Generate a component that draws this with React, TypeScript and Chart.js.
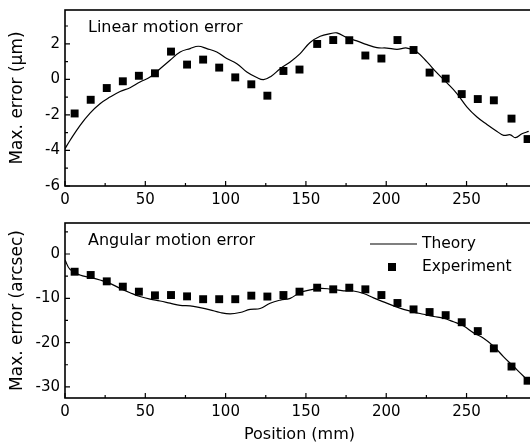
import React, { useEffect, useRef } from 'react';
import { Chart, registerables } from 'chart.js';

Chart.register(...registerables);

// Measurement positions (mm)
const positions = [6, 16, 26, 36, 46, 56, 66, 76, 86, 96, 106, 116, 126, 136, 146, 157, 167, 177, 187, 197, 207, 217, 227, 237, 247, 257, 267, 278, 288];

// Linear motion error (µm)
const linearExperiment = [-1.92, -1.15, -0.49, -0.11, 0.2, 0.34, 1.56, 0.83, 1.11, 0.66, 0.11, -0.28, -0.92, 0.47, 0.55, 1.99, 2.21, 2.2, 1.34, 1.17, 2.21, 1.65, 0.38, 0.04, -0.83, -1.11, -1.18, -2.21, -3.36];
const linearTheoryX = [0, 3.1, 9.3, 15.6, 21.8, 28, 34.3, 40.5, 46.7, 53, 59.2, 65.4, 71.7, 77.9, 83, 88.3, 94.5, 100.7, 107, 113.2, 119.4, 123.6, 128, 134, 140.2, 146.4, 152.6, 158.9, 165.1, 169.3, 175.5, 181.7, 188, 194.2, 200.4, 206.7, 212.9, 219.1, 225.4, 231.6, 237.8, 244, 250.3, 256.5, 262.7, 269, 273.1, 277.3, 280.4, 284.5, 288.7];
const linearTheoryY = [-3.9, -3.44, -2.6, -1.9, -1.37, -1.0, -0.68, -0.47, -0.15, 0.13, 0.6, 1.07, 1.54, 1.73, 1.86, 1.73, 1.54, 1.17, 0.88, 0.41, 0.1, -0.02, 0.15, 0.6, 0.98, 1.45, 2.07, 2.42, 2.57, 2.61, 2.35, 2.16, 1.95, 1.78, 1.76, 1.69, 1.76, 1.54, 0.98, 0.36, -0.2, -0.8, -1.56, -2.12, -2.54, -2.93, -3.15, -3.12, -3.28, -3.06, -2.93];

// Angular motion error (arcsec)
const angularExperiment = [-4.0, -4.74, -6.17, -7.37, -8.5, -9.33, -9.26, -9.56, -10.2, -10.2, -10.2, -9.4, -9.6, -9.26, -8.5, -7.6, -7.97, -7.6, -7.97, -9.26, -11.06, -12.5, -13.1, -13.8, -15.4, -17.4, -21.3, -25.4, -28.6];
const angularTheoryX = [0, 3.1, 9.3, 15.6, 21.8, 28, 34.3, 40.5, 46.7, 53, 59.2, 65.4, 71.7, 77.9, 84.1, 90.3, 96.6, 102.8, 109, 115.3, 121.5, 127.7, 134, 140.2, 146.4, 152.6, 158.9, 165.1, 173.4, 179.6, 185.9, 192.1, 198.3, 204.6, 210.8, 217, 223.2, 229.5, 235.7, 241.9, 248.2, 254.4, 260.6, 266.8, 273.1, 279.3, 285.5, 289.7];
const angularTheoryY = [-1.35, -3.46, -4.74, -5.27, -5.87, -6.62, -7.75, -8.73, -9.6, -10.2, -10.6, -11.1, -11.6, -11.7, -12.1, -12.6, -13.2, -13.5, -13.2, -12.5, -12.3, -11.1, -10.4, -10.0, -8.7, -8.1, -7.75, -7.9, -8.3, -8.35, -8.9, -9.9, -10.8, -11.7, -12.5, -13.1, -13.6, -14.1, -14.5, -15.3, -16.25, -17.8, -19.0, -20.8, -23.2, -25.4, -27.6, -29.2];

// Ticks
const xMajorTicks = [0, 50, 100, 150, 200, 250];
const xMinorTicks = [25, 75, 125, 175, 225, 275];
const linearYMajor = [-6, -4, -2, 0, 2];
const linearYMinor = [-5, -3, -1, 1, 3];
const angularYMajor = [-30, -20, -10, 0];
const angularYMinor = [-25, -15, -5, 5];

const FONT = '"DejaVu Sans", "Liberation Sans", Arial, sans-serif';

type PanelOpts = {
  theoryX: number[];
  theoryY: number[];
  expY: number[];
  yMin: number;
  yMax: number;
  yMajor: number[];
  yMinor: number[];
  yTitle: string;
  panelLabel: string;
  showLegend: boolean;
  xTitle: string | null;
  xAxisHeight: number;
  padTop: number;
};

function makeConfig(o: PanelOpts): any {
  const framePlugin = {
    id: 'frameAndTicks',
    afterDraw(chart: any) {
      const ctx = chart.ctx;
      const a = chart.chartArea;
      const xs = chart.scales.x;
      const ys = chart.scales.y;
      ctx.save();
      ctx.strokeStyle = '#000';
      ctx.lineWidth = 1.6;
      ctx.strokeRect(a.left, a.top, a.right - a.left, a.bottom - a.top);
      ctx.lineWidth = 1.2;
      ctx.beginPath();
      xMajorTicks.forEach((v) => {
        const px = xs.getPixelForValue(v);
        ctx.moveTo(px, a.bottom);
        ctx.lineTo(px, a.bottom - 5);
      });
      xMinorTicks.forEach((v) => {
        const px = xs.getPixelForValue(v);
        ctx.moveTo(px, a.bottom);
        ctx.lineTo(px, a.bottom - 3);
      });
      o.yMajor.forEach((v) => {
        const py = ys.getPixelForValue(v);
        ctx.moveTo(a.left, py);
        ctx.lineTo(a.left + 5, py);
      });
      o.yMinor.forEach((v) => {
        const py = ys.getPixelForValue(v);
        ctx.moveTo(a.left, py);
        ctx.lineTo(a.left + 3, py);
      });
      ctx.stroke();

      // panel label
      ctx.fillStyle = '#000';
      ctx.font = `16px ${FONT}`;
      ctx.textBaseline = 'middle';
      ctx.textAlign = 'left';
      ctx.fillText(o.panelLabel, a.left + 23, a.top + 18);

      if (o.showLegend) {
        const ds = chart.data.datasets;
        const lx = a.left + 305;
        ctx.font = `15.5px ${FONT}`;
        ctx.lineWidth = 1.2;
        ctx.beginPath();
        ctx.moveTo(lx, a.top + 21);
        ctx.lineTo(lx + 47, a.top + 21);
        ctx.stroke();
        ctx.fillText(ds[0].label, lx + 52, a.top + 21);
        ctx.fillRect(lx + 22 - 4, a.top + 44 - 4, 8, 8);
        ctx.fillText(ds[1].label, lx + 52, a.top + 44);
      }
      ctx.restore();
    },
  };

  const tickFont = { family: FONT, size: 15 };

  return {
    type: 'scatter',
    data: {
      datasets: [
        {
          label: 'Theory',
          data: o.theoryX.map((x, i) => ({ x, y: o.theoryY[i] })),
          showLine: true,
          borderColor: '#000',
          borderWidth: 1.2,
          pointRadius: 0,
          tension: 0.4,
          fill: false,
        },
        {
          label: 'Experiment',
          data: positions.map((x, i) => ({ x, y: o.expY[i] })),
          showLine: false,
          pointStyle: 'rect',
          pointRadius: 5.6,
          backgroundColor: '#000',
          borderColor: '#000',
          borderWidth: 0,
        },
      ],
    },
    options: {
      responsive: false,
      animation: false,
      devicePixelRatio: 1,
      layout: { padding: { top: o.padTop, right: 26, left: 0, bottom: 0 } },
      plugins: { legend: { display: false }, tooltip: { enabled: false } },
      scales: {
        x: {
          type: 'linear',
          min: 0,
          max: 292,
          afterBuildTicks: (s: any) => {
            s.ticks = xMajorTicks.map((v) => ({ value: v }));
          },
          afterFit: (s: any) => {
            s.height = o.xAxisHeight;
            s.paddingLeft = 0;
            s.paddingRight = 0;
          },
          grid: { display: false, drawTicks: false },
          border: { display: false },
          ticks: { font: tickFont, color: '#000', padding: 5, maxRotation: 0, autoSkip: false },
          title: o.xTitle
            ? { display: true, text: o.xTitle, font: { family: FONT, size: 16 }, color: '#000', padding: { top: 0, bottom: 2 } }
            : { display: false },
        },
        y: {
          type: 'linear',
          min: o.yMin,
          max: o.yMax,
          afterBuildTicks: (s: any) => {
            s.ticks = o.yMajor.map((v) => ({ value: v }));
          },
          afterFit: (s: any) => {
            s.width = 65;
            s.paddingTop = 0;
            s.paddingBottom = 0;
          },
          grid: { display: false, drawTicks: false },
          border: { display: false },
          ticks: { font: tickFont, color: '#000', padding: 5, autoSkip: false },
          title: { display: true, text: o.yTitle, font: { family: FONT, size: 17 }, color: '#000', padding: { top: 7, bottom: 0 } },
        },
      },
    },
    plugins: [framePlugin],
  };
}

export default function App() {
  const topRef = useRef<HTMLCanvasElement>(null);
  const botRef = useRef<HTMLCanvasElement>(null);

  useEffect(() => {
    const top = new Chart(
      topRef.current as HTMLCanvasElement,
      makeConfig({
        theoryX: linearTheoryX,
        theoryY: linearTheoryY,
        expY: linearExperiment,
        yMin: -6,
        yMax: 3.9,
        yMajor: linearYMajor,
        yMinor: linearYMinor,
        yTitle: 'Max. error (μm)',
        panelLabel: 'Linear motion error',
        showLegend: false,
        xTitle: null,
        xAxisHeight: 29,
        padTop: 10,
      })
    );
    const bot = new Chart(
      botRef.current as HTMLCanvasElement,
      makeConfig({
        theoryX: angularTheoryX,
        theoryY: angularTheoryY,
        expY: angularExperiment,
        yMin: -32.5,
        yMax: 7,
        yMajor: angularYMajor,
        yMinor: angularYMinor,
        yTitle: 'Max. error (arcsec)',
        panelLabel: 'Angular motion error',
        showLegend: true,
        xTitle: 'Position (mm)',
        xAxisHeight: 48,
        padTop: 8,
      })
    );
    return () => {
      top.destroy();
      bot.destroy();
    };
  }, []);

  return (
    <div
      style={{
        position: 'absolute',
        left: 0,
        top: 0,
        width: 530,
        height: 446,
        overflow: 'hidden',
        background: '#fff',
      }}
    >
      <canvas ref={topRef} width={560} height={215} style={{ position: 'absolute', left: 0, top: 0 }} />
      <canvas ref={botRef} width={560} height={231} style={{ position: 'absolute', left: 0, top: 215 }} />
    </div>
  );
}
